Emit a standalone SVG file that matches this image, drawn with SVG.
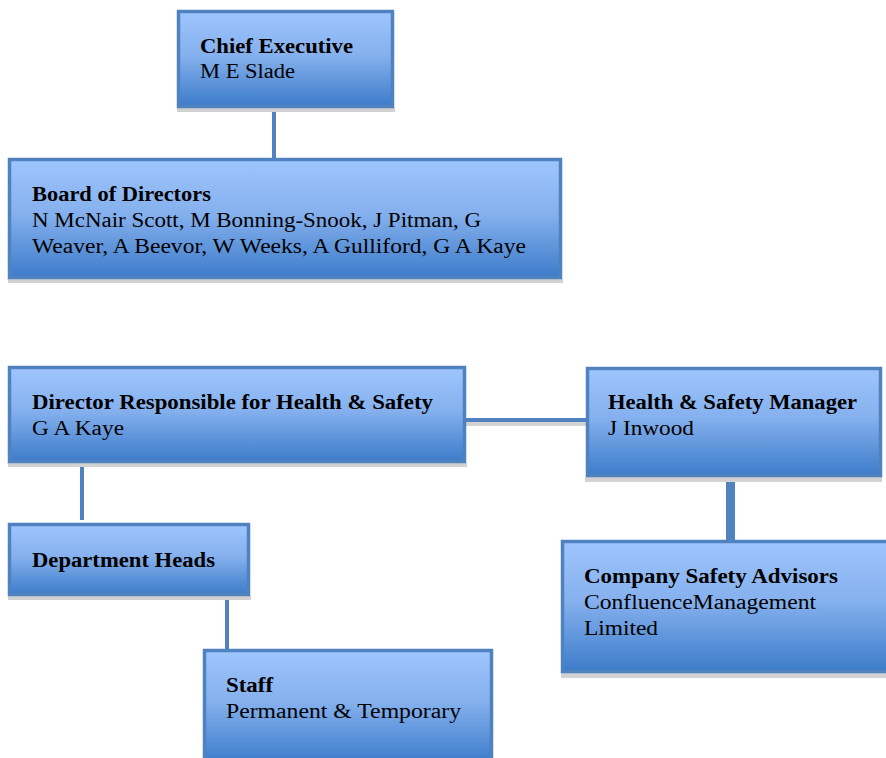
<svg xmlns="http://www.w3.org/2000/svg" width="886" height="758" viewBox="0 0 886 758">
  <style>
    .box { fill: url(#boxFill); stroke: #4f82bf; stroke-width: 3.5; }
    .shadow { fill: #d2d2d2; }
    .link { stroke: #4f82bf; stroke-width: 4; fill: none; }
    .linkShadow { stroke: #d2d2d2; stroke-width: 4; fill: none; }
    .title { font-family: "Liberation Serif", "DejaVu Serif", serif; font-weight: bold; font-size: 20px; fill: #000; }
    .sub { font-family: "Liberation Serif", "DejaVu Serif", serif; font-size: 20px; fill: #000; }
  </style>
  <defs>
    <linearGradient id="boxFill" x1="0" y1="0" x2="0" y2="1">
      <stop offset="0" stop-color="#9ec5fd"/>
      <stop offset="0.45" stop-color="#86b1ee"/>
      <stop offset="1" stop-color="#3d7cca"/>
    </linearGradient>
  </defs>
  <rect width="886" height="758" fill="#ffffff"/>

  <!-- connectors -->
  <g id="connectors">
    <line class="link" x1="274" y1="108" x2="274" y2="160"/>
    <line class="linkShadow" x1="466" y1="424" x2="586" y2="424"/>
    <line class="link" x1="466" y1="420" x2="586" y2="420"/>
    <line class="link" x1="82" y1="464" x2="82" y2="520"/>
    <line class="link" x1="227" y1="597" x2="227" y2="651"/>
    <line class="link" x1="730.5" y1="477" x2="730.5" y2="541" style="stroke-width:9"/>
  </g>

  <g id="chief-executive">
    <rect class="shadow" x="177" y="108" width="218" height="4"/>
    <rect class="box" x="178.5" y="11.5" width="214" height="95"/>
    <text class="title" x="200" y="53" textLength="153" lengthAdjust="spacingAndGlyphs">Chief Executive</text>
    <text class="sub" x="200" y="78" textLength="95" lengthAdjust="spacingAndGlyphs">M E Slade</text>
  </g>

  <g id="board-of-directors">
    <rect class="shadow" x="8" y="279" width="555" height="4"/>
    <rect class="box" x="9.5" y="159.5" width="551" height="118"/>
    <text class="title" x="32" y="201" textLength="179" lengthAdjust="spacingAndGlyphs">Board of Directors</text>
    <text class="sub" x="32" y="227" textLength="449" lengthAdjust="spacingAndGlyphs">N McNair Scott, M Bonning-Snook, J Pitman, G</text>
    <text class="sub" x="32" y="253" textLength="494" lengthAdjust="spacingAndGlyphs">Weaver, A Beevor, W Weeks, A Gulliford, G A Kaye</text>
  </g>

  <g id="director-health-safety">
    <rect class="shadow" x="8" y="463" width="459" height="4"/>
    <rect class="box" x="9.5" y="367.5" width="455" height="94"/>
    <text class="title" x="32" y="409" textLength="401" lengthAdjust="spacingAndGlyphs">Director Responsible for Health &amp; Safety</text>
    <text class="sub" x="32" y="435" textLength="92" lengthAdjust="spacingAndGlyphs">G A Kaye</text>
  </g>

  <g id="health-safety-manager">
    <rect class="shadow" x="585" y="477" width="297" height="5"/>
    <rect class="box" x="587.5" y="368.5" width="293" height="107"/>
    <text class="title" x="608" y="409" textLength="249" lengthAdjust="spacingAndGlyphs">Health &amp; Safety Manager</text>
    <text class="sub" x="608" y="435" textLength="86" lengthAdjust="spacingAndGlyphs">J Inwood</text>
  </g>

  <g id="department-heads">
    <rect class="shadow" x="8" y="596" width="243" height="4"/>
    <rect class="box" x="9.5" y="524.5" width="239" height="70"/>
    <text class="title" x="32" y="567" textLength="183" lengthAdjust="spacingAndGlyphs">Department Heads</text>
  </g>

  <g id="staff">
    <rect class="box" x="204.5" y="650.5" width="287" height="112"/>
    <text class="title" x="226" y="692" textLength="47" lengthAdjust="spacingAndGlyphs">Staff</text>
    <text class="sub" x="226" y="718" textLength="235" lengthAdjust="spacingAndGlyphs">Permanent &amp; Temporary</text>
  </g>

  <g id="company-safety-advisors">
    <rect class="shadow" x="561" y="673" width="330" height="5"/>
    <rect class="box" x="562.5" y="541.5" width="330" height="130"/>
    <text class="title" x="584" y="583" textLength="254" lengthAdjust="spacingAndGlyphs">Company Safety Advisors</text>
    <text class="sub" x="584" y="609" textLength="232" lengthAdjust="spacingAndGlyphs">ConfluenceManagement</text>
    <text class="sub" x="584" y="635" textLength="74" lengthAdjust="spacingAndGlyphs">Limited</text>
  </g>
</svg>
